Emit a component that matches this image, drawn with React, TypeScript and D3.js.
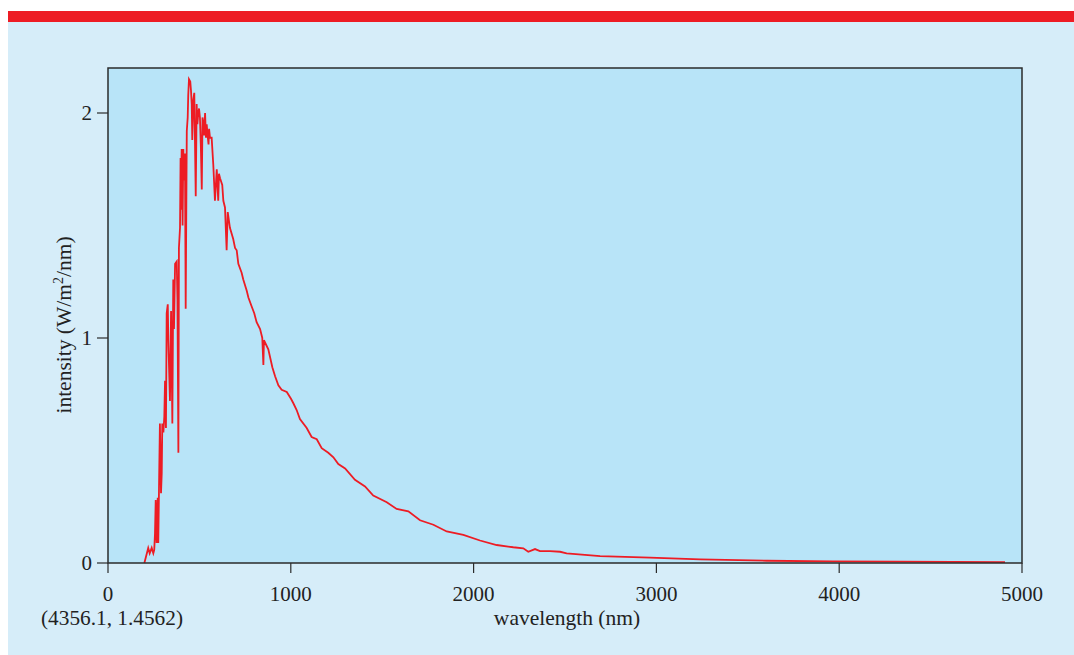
import React from "react";
import * as d3 from "d3";

const wavelength = [
  199, 220, 228, 239, 248, 253, 257, 261, 266, 272, 275, 279, 284, 290, 294, 297, 303, 308, 312, 317,
  321, 327, 330, 339, 345, 352, 357, 361, 367, 376, 380, 385, 388, 394, 397, 399, 403, 405, 408, 412,
  415, 418, 421, 425, 431, 436, 439, 443, 450, 454, 458, 461, 467, 472, 480, 485, 489, 494, 498, 503,
  508, 513, 517, 521, 526, 531, 536, 540, 545, 550, 553, 558, 567, 576, 585, 595, 603, 607, 613, 625,
  631, 640, 649, 655, 667, 685, 695, 704, 713, 731, 740, 759, 768, 786, 800, 813, 832, 844, 850, 853,
  859, 877, 899, 914, 932, 950, 978, 1001, 1014, 1032, 1050, 1087, 1114, 1142, 1169, 1205, 1233, 1260, 1297, 1351,
  1406, 1451, 1525, 1579, 1643, 1707, 1780, 1853, 1944, 2035, 2126, 2217, 2272, 2299, 2336, 2363, 2418, 2473, 2509, 2692,
  2965, 3239, 3603, 3966, 4333, 4907,
];
const intensity = [
  0, 0.067, 0.043, 0.067, 0.043, 0.058, 0.13, 0.28, 0.089, 0.29, 0.089, 0.33, 0.62, 0.31, 0.4, 0.62, 0.58, 0.65, 0.81, 0.6,
  1.11, 1.15, 0.99, 0.72, 1.12, 0.62, 1.26, 1.04, 1.33, 1.34, 1.17, 0.49, 1.4, 1.49, 1.8, 1.57, 1.84, 1.76, 1.5, 1.84,
  1.7, 1.8, 1.82, 1.13, 1.92, 1.98, 2.08, 2.15, 2.14, 2.1, 2.04, 1.88, 2.06, 2.09, 1.63, 2.04, 1.95, 2.0, 2.02, 1.98,
  1.85, 1.66, 1.98, 1.96, 1.9, 2.0, 1.89, 1.95, 1.9, 1.86, 1.93, 1.89, 1.89, 1.77, 1.61, 1.75, 1.61, 1.73, 1.71, 1.68,
  1.61, 1.58, 1.39, 1.56, 1.49, 1.44, 1.4, 1.39, 1.33, 1.29, 1.26, 1.21, 1.18, 1.14, 1.11, 1.07, 1.04, 1.0, 0.88, 0.99,
  0.98, 0.95, 0.87, 0.83, 0.79, 0.77, 0.76, 0.73, 0.71, 0.68, 0.64, 0.6, 0.56, 0.55, 0.51, 0.49, 0.47, 0.44, 0.42, 0.37,
  0.34, 0.3, 0.27, 0.24, 0.23, 0.19, 0.17, 0.14, 0.125, 0.1, 0.08, 0.07, 0.065, 0.05, 0.062, 0.053, 0.053, 0.05, 0.043, 0.031,
  0.024, 0.016, 0.01, 0.0075, 0.006, 0.004,
];
const xTicks = [0, 1000, 2000, 3000, 4000, 5000];
const yTicks = [0, 1, 2];
const xLabel = "wavelength (nm)";
const yLabelMain = "intensity (W/m";
const yLabelSup = "2";
const yLabelEnd = "/nm)";
const cursorText = "(4356.1, 1.4562)";

const W = 1074;
const H = 655;
const plot = { left: 108, right: 1022, top: 68, bottom: 563 };
const font = "'Liberation Serif', 'Times New Roman', serif";

export default function App() {
  const x = d3.scaleLinear().domain([0, 5000]).range([plot.left, plot.right]);
  const y = d3.scaleLinear().domain([0, 2.2]).range([plot.bottom, plot.top]);
  const pts: [number, number][] = wavelength.map((w, i) => [w, intensity[i]]);
  const line = d3
    .line<[number, number]>()
    .x((d) => x(d[0]))
    .y((d) => y(d[1]));

  return (
    <svg
      width={W}
      height={H}
      style={{ position: "absolute", left: 0, top: 0, display: "block" }}
      fontFamily={font}
    >
      <rect x={0} y={0} width={W} height={H} fill="#ffffff" />
      <rect x={8} y={22} width={W - 8} height={H - 22} fill="#d6edf9" />
      <rect x={8} y={11} width={W - 8} height={11} fill="#ed1c24" />
      <rect
        x={plot.left}
        y={plot.top}
        width={plot.right - plot.left}
        height={plot.bottom - plot.top}
        fill="#b8e4f8"
      />
      <path d={line(pts) || ""} fill="none" stroke="#ed1c24" strokeWidth={1.8} strokeLinejoin="miter" />
      <rect
        x={plot.left}
        y={plot.top}
        width={plot.right - plot.left}
        height={plot.bottom - plot.top}
        fill="none"
        stroke="#2b2b2b"
        strokeWidth={1.5}
      />
      {xTicks.map((t) => (
        <g key={"x" + t}>
          <line x1={x(t)} x2={x(t)} y1={plot.bottom} y2={plot.bottom + 10} stroke="#2b2b2b" strokeWidth={1.2} />
          <text x={x(t)} y={601} textAnchor="middle" fontSize={21} fill="#222">
            {t}
          </text>
        </g>
      ))}
      {yTicks.map((t) => (
        <g key={"y" + t}>
          <line x1={plot.left - 11} x2={plot.left} y1={y(t)} y2={y(t)} stroke="#2b2b2b" strokeWidth={1.2} />
          <text x={92} y={y(t) + 7} textAnchor="end" fontSize={21} fill="#222">
            {t}
          </text>
        </g>
      ))}
      <text x={567} y={625} textAnchor="middle" fontSize={21.5} fill="#222">
        {xLabel}
      </text>
      <text x={112} y={625} textAnchor="middle" fontSize={21.3} fill="#222">
        {cursorText}
      </text>
      <text transform="translate(71,325) rotate(-90)" textAnchor="middle" fontSize={21.5} fill="#222">
        {yLabelMain}
        <tspan fontSize={14} dy={-8}>
          {yLabelSup}
        </tspan>
        <tspan dy={8}>{yLabelEnd}</tspan>
      </text>
    </svg>
  );
}
